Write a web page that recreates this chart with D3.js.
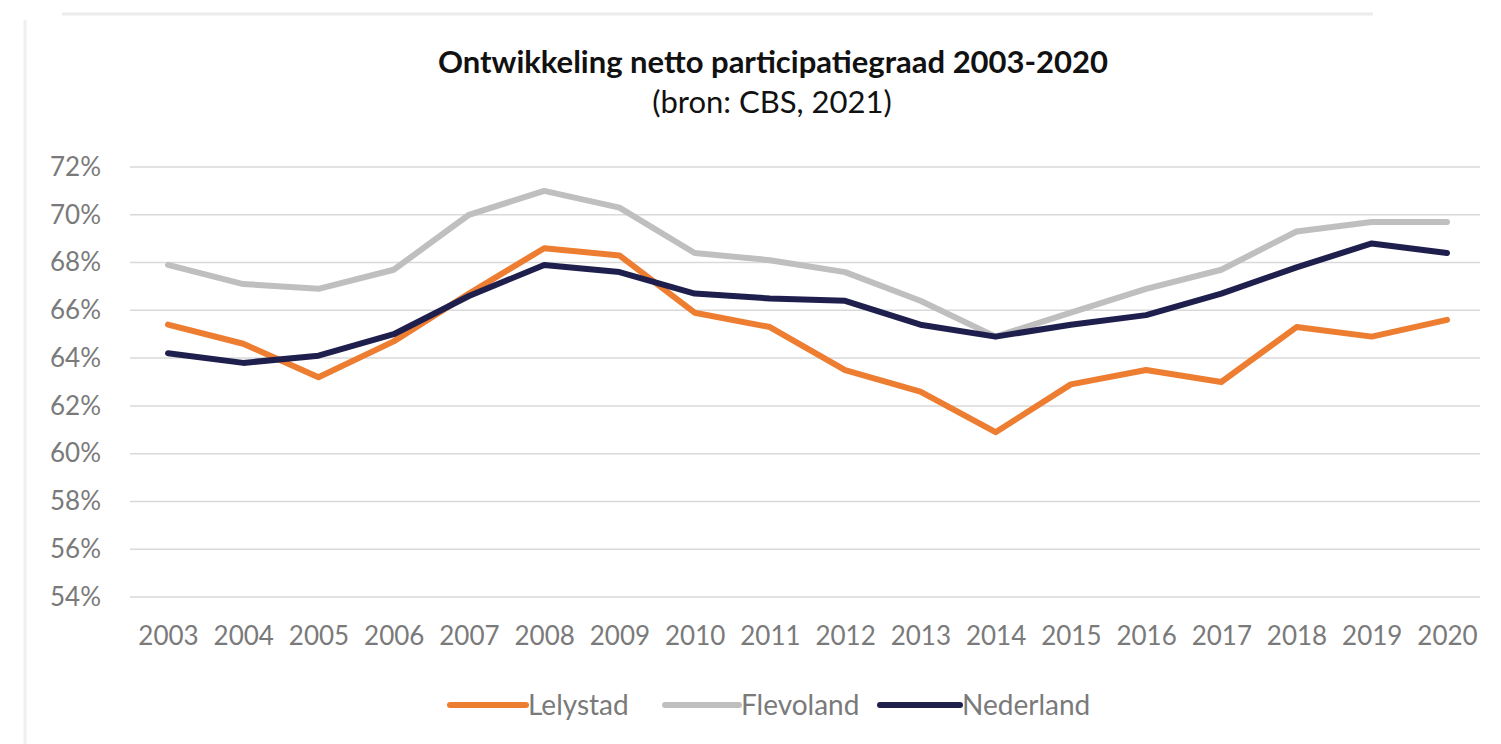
<!DOCTYPE html>
<html>
<head>
<meta charset="utf-8">
<script src="https://cdn.jsdelivr.net/npm/d3@7"></script>
<style>
  html, body { margin: 0; padding: 0; background: #fff; }
  svg { display: block; }
  text { font-family: Lato, "Open Sans", sans-serif; }
</style>
</head>
<body>
<svg id="chart" width="1501" height="744"></svg>
<script>
const years = ["2003","2004","2005","2006","2007","2008","2009","2010","2011","2012","2013","2014","2015","2016","2017","2018","2019","2020"];
const lelystad  = [65.4, 64.6, 63.2, 64.7, 66.7, 68.6, 68.3, 65.9, 65.3, 63.5, 62.6, 60.9, 62.9, 63.5, 63.0, 65.3, 64.9, 65.6];
const flevoland = [67.9, 67.1, 66.9, 67.7, 70.0, 71.0, 70.3, 68.4, 68.1, 67.6, 66.4, 64.9, 65.9, 66.9, 67.7, 69.3, 69.7, 69.7];
const nederland = [64.2, 63.8, 64.1, 65.0, 66.6, 67.9, 67.6, 66.7, 66.5, 66.4, 65.4, 64.9, 65.4, 65.8, 66.7, 67.8, 68.8, 68.4];
const yTicks = [54, 56, 58, 60, 62, 64, 66, 68, 70, 72];
const seriesNames = ["Lelystad", "Flevoland", "Nederland"];
const title = "Ontwikkeling netto participatiegraad 2003-2020";
const subtitle = "(bron: CBS, 2021)";

const series = [
  { name: seriesNames[0], values: lelystad,  color: "#ED7D31" },
  { name: seriesNames[1], values: flevoland, color: "#BFBFBF" },
  { name: seriesNames[2], values: nederland, color: "#1F1F4E" }
];

const svg = d3.select("#chart");

// faint frame
svg.append("line").attr("x1", 62).attr("x2", 1373).attr("y1", 14).attr("y2", 14)
  .attr("stroke", "#ececec").attr("stroke-width", 3);
svg.append("line").attr("x1", 25).attr("x2", 25).attr("y1", 20).attr("y2", 744)
  .attr("stroke", "#efefef").attr("stroke-width", 3);

const x = d3.scalePoint().domain(years).range([168, 1447]);
const y = d3.scaleLinear().domain([54, 72]).range([597, 167]);

// gridlines
const grid = svg.append("g");
grid.selectAll("line").data(yTicks).join("line")
  .attr("x1", 130).attr("x2", 1480)
  .attr("y1", d => y(d)).attr("y2", d => y(d))
  .attr("stroke", "#d9d9d9").attr("stroke-width", 1.5);

// y axis
const yAxis = d3.axisLeft(y).tickValues(yTicks).tickSize(0).tickPadding(0)
  .tickFormat(d => d + "%");
const gy = svg.append("g").attr("transform", "translate(101,0)").call(yAxis);
gy.select(".domain").remove();
gy.selectAll("text").attr("fill", "#7a7a7a").style("font-size", "26px")
  .style("font-family", "Lato, sans-serif");

// x axis
const xAxis = d3.axisBottom(x).tickSize(0).tickPadding(0);
const gx = svg.append("g").attr("transform", "translate(0,0)").call(xAxis);
gx.select(".domain").remove();
gx.selectAll("text").attr("fill", "#7a7a7a").style("font-size", "26px")
  .attr("y", 645).attr("dy", null)
  .style("font-family", "Lato, sans-serif");

// lines
const line = d3.line().x((d, i) => x(years[i])).y(d => y(d));
svg.append("g").selectAll("path").data(series).join("path")
  .attr("d", d => line(d.values))
  .attr("fill", "none")
  .attr("stroke", d => d.color)
  .attr("stroke-width", 6)
  .attr("stroke-linejoin", "round")
  .attr("stroke-linecap", "round");

// title
svg.append("text").attr("x", 773).attr("y", 73).attr("text-anchor", "middle")
  .style("font-size", "31px").style("font-weight", "bold").attr("fill", "#111")
  .text(title);
svg.append("text").attr("x", 772).attr("y", 113).attr("text-anchor", "middle")
  .style("font-size", "31px").attr("fill", "#111")
  .text(subtitle);

// legend
const legendX = [450, 665, 880];
const legendW = [76, 74, 80];
const lg = svg.append("g").selectAll("g").data(series).join("g")
  .attr("transform", (d, i) => `translate(${legendX[i]},705)`);
lg.append("line").attr("x1", 0).attr("x2", (d, i) => legendW[i]).attr("y1", 0).attr("y2", 0)
  .attr("stroke", d => d.color).attr("stroke-width", 6).attr("stroke-linecap", "round");
lg.append("text").attr("x", (d, i) => legendW[i] + 2).attr("y", 10).attr("fill", "#7a7a7a")
  .style("font-size", "28px").text(d => d.name);
</script>
</body>
</html>
